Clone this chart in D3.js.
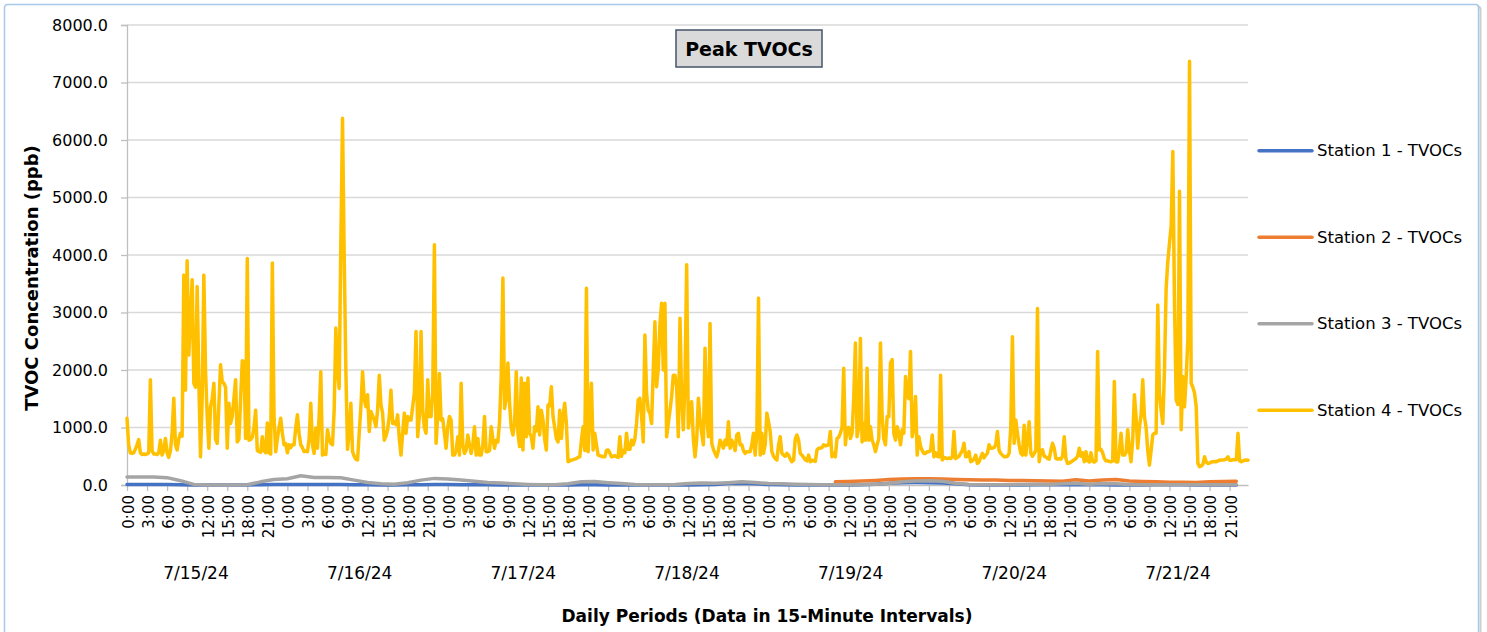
<!DOCTYPE html>
<html>
<head>
<meta charset="utf-8">
<title>Peak TVOCs</title>
<script src="https://cdn.jsdelivr.net/npm/d3@7"></script>
<style>
  body { margin: 0; background: #fff; }
  svg { display: block; font-family: "DejaVu Sans", sans-serif; }
</style>
</head>
<body>
<div id="chart"></div>
<script>
// ---------- data ----------
const days = ["7/15/24", "7/16/24", "7/17/24", "7/18/24", "7/19/24", "7/20/24", "7/21/24"];
const hourTicks = [0, 3, 6, 9, 12, 15, 18, 21];
const yTicks = [0, 1000, 2000, 3000, 4000, 5000, 6000, 7000, 8000];
const seriesNames = ["Station 1 - TVOCs", "Station 2 - TVOCs", "Station 3 - TVOCs", "Station 4 - TVOCs"];
const seriesColors = ["#4472C4", "#ED7D31", "#A5A5A5", "#FFC000"];

// station 4 is 15-minute data (96 readings per day)
const s4Day1 = [
  1160, 700, 560, 550, 560, 620, 700, 790, 560, 530,
  540, 530, 540, 560, 1830, 600, 540, 540, 530, 560,
  780, 520, 600, 810, 560, 480, 600, 900, 1510, 700,
  610, 800, 900, 850, 3650, 1650, 3900, 2260, 2900, 3570,
  1770, 1700, 3450, 1800, 490, 1500, 3650, 2000, 1200, 640,
  1360, 1500, 1770, 800, 725, 1400, 2090, 1800, 1770, 1700,
  640, 1420, 1070, 1200, 1500, 1830, 750, 800, 1500, 2160,
  2150, 810, 3940, 780, 790, 830, 1000, 1300, 600, 580,
  570, 840, 600, 560, 1080, 560, 540, 3860, 1200, 580,
  800, 1000, 1160, 900, 700, 720];
const s4Day2 = [
  560, 700, 650, 700, 700, 1000, 1220, 900, 700, 650,
  580, 590, 580, 800, 1420, 700, 550, 990, 640, 1200,
  1970, 520, 540, 530, 960, 800, 725, 700, 1300, 2730,
  2000, 1680, 4200, 6380, 4000, 2000, 620, 900, 1420, 580,
  500, 450, 435, 900, 1360, 1970, 1500, 1360, 1570, 930,
  1280, 1200, 1130, 1015, 1300, 1910, 1400, 1250, 780, 850,
  960, 1200, 1650, 1070, 1100, 1050, 1220, 800, 520, 900,
  1250, 900, 1190, 1130, 1130, 1360, 1600, 2670, 840, 1200,
  2670, 1300, 1000, 900, 1830, 1190, 1190, 1600, 4180, 725,
  1200, 1940, 1130, 1150, 900, 640];
const s4Day3 = [
  1000, 1190, 1130, 520, 520, 600, 840, 520, 1770, 700,
  550, 610, 870, 700, 550, 700, 1015, 520, 810, 520,
  520, 700, 1190, 580, 580, 600, 1015, 810, 640, 780,
  750, 1100, 1885, 3600, 1330, 1500, 2120, 1420, 1000, 870,
  1070, 1970, 900, 670, 1860, 610, 1770, 840, 1860, 900,
  840, 640, 1015, 940, 1360, 870, 1300, 1130, 800, 610,
  1390, 1380, 1710, 1190, 1000, 810, 750, 1300, 810, 1200,
  1420, 1070, 405, 420, 435, 440, 450, 460, 480, 490,
  780, 1015, 600, 3420, 580, 1200, 1770, 610, 900, 700,
  520, 510, 500, 490, 490, 600];
const s4Day4 = [
  610, 560, 490, 500, 510, 490, 480, 840, 500, 600,
  560, 900, 620, 620, 780, 700, 800, 1070, 1480, 1510,
  1200, 750, 2610, 1600, 1300, 1250, 1070, 2000, 2840, 1710,
  2030, 2800, 3160, 2000, 3160, 840, 1070, 1300, 1540, 1910,
  1910, 1700, 840, 2900, 1500, 960, 1800, 3830, 990, 1200,
  1450, 800, 490, 780, 1510, 1130, 900, 700, 2380, 1200,
  840, 2810, 725, 620, 550, 490, 600, 780, 725, 640,
  780, 700, 1100, 640, 780, 700, 600, 870, 900, 700,
  700, 600, 550, 580, 580, 580, 700, 900, 520, 900,
  3250, 520, 900, 550, 700, 1250];
const s4Day5 = [
  1100, 930, 580, 500, 460, 435, 700, 840, 550, 520,
  500, 550, 520, 450, 405, 430, 800, 870, 780, 550,
  520, 480, 440, 420, 520, 405, 430, 420, 410, 610,
  640, 640, 650, 700, 680, 690, 700, 930, 490, 550,
  490, 810, 830, 900, 1000, 2030, 700, 990, 1000, 810,
  900, 1500, 2470, 840, 1000, 2550, 750, 1070, 780, 2030,
  780, 1015, 780, 700, 580, 700, 810, 2470, 1190, 800,
  700, 1190, 1190, 2120, 2180, 900, 780, 1015, 900, 700,
  960, 900, 1885, 1600, 1500, 2320, 840, 1000, 1540, 520,
  840, 670, 600, 550, 550, 580];
const s4Day6 = [
  580, 600, 870, 490, 560, 500, 490, 1910, 435, 480,
  470, 460, 470, 460, 480, 930, 460, 480, 500, 550,
  600, 725, 490, 500, 580, 405, 420, 450, 520, 375,
  400, 480, 550, 470, 520, 550, 700, 640, 640, 650,
  700, 930, 600, 550, 520, 490, 490, 500, 550, 1000,
  2580, 725, 1130, 900, 700, 550, 520, 1040, 520, 800,
  1100, 550, 500, 550, 600, 3070, 405, 600, 610, 500,
  490, 460, 450, 600, 725, 640, 460, 450, 460, 450,
  500, 840, 460, 375, 380, 400, 420, 440, 460, 500,
  640, 500, 560, 405, 580, 420];
const s4Day7 = [
  400, 560, 410, 400, 420, 2320, 610, 620, 560, 460,
  420, 420, 410, 405, 420, 1800, 405, 400, 600, 900,
  520, 520, 560, 960, 600, 405, 800, 1570, 1190, 640,
  1000, 1220, 1830, 1190, 1000, 600, 345, 600, 870, 900,
  900, 3130, 1600, 1300, 1070, 2000, 3420, 3890, 4200, 4500,
  5800, 3160, 1480, 1400, 5110, 960, 1885, 1360, 1885, 2520,
  7370, 1770, 1700, 1600, 1360, 375, 320, 330, 360, 490,
  400, 375, 380, 400, 405, 410, 405, 420, 430, 435,
  435, 440, 450, 490, 430, 430, 440, 440, 440, 900,
  420, 405, 420, 430, 435, 430];

// stations 1-3 stay near zero; read every 2 hours
const station1 = [
  8, 8, 8, 8, 5, 0, 0, 0, 0, 0,
  5, 8, 10, 10, 10, 10, 8, 5, 3, 2,
  2, 3, 5, 8, 8, 6, 5, 3, 2, 2,
  0, 0, 0, 2, 5, 3, 2, 0, 0, 0,
  0, 0, 2, 5, 10, 25, 30, 20, 8, 3,
  0, 0, 0, 0, 2, 5, 15, 30, 40, 42,
  40, 35, 20, 5, 2, 0, 0, 2, 5, 5,
  5, 5, 5, 3, 2, 2, 2, 5, 5, 3,
  2, 2, 2, 2];
const station2 = [
  null, null, null, null, null, null, null, null, null, null,
  null, null, null, null, null, null, null, null, null, null,
  null, null, null, null, null, null, null, null, null, null,
  null, null, null, null, null, null, null, null, null, null,
  null, null, null, null, null, null, null, null, null, null,
  null, null, null, 55, 60, 70, 80, 95, 105, 110,
  110, 105, 95, 90, 85, 85, 80, 80, 75, 70,
  65, 90, 70, 85, 95, 70, 60, 55, 50, 50,
  45, 55, 60, 65];
const station3 = [
  140, 140, 138, 128, 75, 10, 0, 0, 0, 5,
  55, 95, 110, 160, 130, 130, 125, 85, 45, 20,
  12, 40, 85, 115, 105, 85, 65, 45, 35, 20,
  10, 5, 5, 20, 55, 60, 40, 25, 10, 5,
  5, 10, 25, 35, 30, 40, 55, 45, 25, 20,
  15, 10, 5, 5, 5, 10, 15, 25, 55, 70,
  75, 65, 30, 10, 5, 5, 5, 10, 15, 10,
  20, 30, 15, 25, 20, 10, 5, 5, 5, 5,
  5, 5, 5, 5];

const s4StepHours = 0.25;
const lowStepHours = 2;

// ---------- layout ----------
const W = 1487, H = 632;
const plot = { left: 127, right: 1248, top: 25, bottom: 485 };

const station4 = [].concat(s4Day1, s4Day2, s4Day3, s4Day4, s4Day5, s4Day6, s4Day7);
const toPoints = (arr, step) => arr.map((v, i) => ({ h: i * step, v: v }));
const series = [
  toPoints(station1, lowStepHours),
  toPoints(station2, lowStepHours),
  toPoints(station3, lowStepHours),
  toPoints(station4, s4StepHours)
];

const svg = d3.select("#chart").append("svg")
  .attr("width", W)
  .attr("height", H);

// outer chart border with a faint shadow
svg.append("rect")
  .attr("x", 6.5).attr("y", 6.5)
  .attr("width", 1474).attr("height", 640)
  .attr("rx", 3)
  .attr("fill", "none")
  .attr("stroke", "#cfcfcf")
  .attr("stroke-width", 2);
svg.append("rect")
  .attr("x", 4.5).attr("y", 4.5)
  .attr("width", 1474).attr("height", 640)
  .attr("rx", 3)
  .attr("fill", "#fff")
  .attr("stroke", "#a8c8ea")
  .attr("stroke-width", 1.5);

const x = d3.scaleLinear()
  .domain([0, (station4.length - 1) * s4StepHours])
  .range([plot.left, plot.right]);

const y = d3.scaleLinear()
  .domain([0, 8000])
  .range([plot.bottom, plot.top]);

// gridlines
svg.append("g")
  .selectAll("line")
  .data(yTicks.filter(d => d > 0))
  .enter()
  .append("line")
  .attr("x1", plot.left)
  .attr("x2", plot.right)
  .attr("y1", d => y(d))
  .attr("y2", d => y(d))
  .attr("stroke", "#d9d9d9")
  .attr("stroke-width", 1.3);

// y axis
const yAxis = d3.axisLeft(y)
  .tickValues(yTicks)
  .tickFormat(d3.format(".1f"))
  .tickSize(6)
  .tickPadding(13);

const gy = svg.append("g")
  .attr("transform", `translate(${plot.left},0)`)
  .call(yAxis);
gy.select(".domain").attr("stroke", "#bfbfbf").attr("stroke-width", 1.3);
gy.selectAll(".tick line").attr("stroke", "#bfbfbf").attr("stroke-width", 1.3);
gy.selectAll(".tick text")
  .style("font-family", "DejaVu Sans")
  .style("font-size", "16px")
  .attr("fill", "#000");

// x axis, 3-hour ticks
const xTickValues = [];
days.forEach((d, i) => hourTicks.forEach(hh => xTickValues.push(i * 24 + hh)));

const xAxis = d3.axisBottom(x)
  .tickValues(xTickValues)
  .tickFormat(h => `${h % 24}:00`)
  .tickSize(6)
  .tickSizeOuter(0);

const gx = svg.append("g")
  .attr("transform", `translate(0,${plot.bottom})`)
  .call(xAxis);
gx.select(".domain").attr("stroke", "#bfbfbf").attr("stroke-width", 1.3);
gx.selectAll(".tick line").attr("stroke", "#bfbfbf").attr("stroke-width", 1.3);
gx.selectAll(".tick text")
  .attr("transform", "rotate(-90)")
  .attr("x", -10)
  .attr("y", 1)
  .attr("dy", "0.36em")
  .style("text-anchor", "end")
  .style("font-family", "DejaVu Sans")
  .style("font-size", "15px")
  .attr("fill", "#000");

// day group labels
const dayScale = d3.scalePoint()
  .domain(days)
  .range([196, 1178]);

svg.append("g")
  .selectAll("text")
  .data(days)
  .enter()
  .append("text")
  .attr("x", d => dayScale(d))
  .attr("y", 579)
  .attr("text-anchor", "middle")
  .style("font-size", "17px")
  .text(d => d);

// series lines
const line = d3.line()
  .defined(d => d.v !== null)
  .x(d => x(d.h))
  .y(d => y(d.v));

svg.append("g")
  .selectAll("path")
  .data(series)
  .enter()
  .append("path")
  .attr("d", line)
  .attr("fill", "none")
  .attr("stroke", (d, i) => seriesColors[i])
  .attr("stroke-width", 3.5)
  .attr("stroke-linejoin", "round")
  .attr("stroke-linecap", "round");

// title box
svg.append("rect")
  .attr("x", 676).attr("y", 30)
  .attr("width", 146).attr("height", 37)
  .attr("fill", "#dadada")
  .attr("stroke", "#44546a")
  .attr("stroke-width", 1.5);
svg.append("text")
  .attr("x", 749).attr("y", 49)
  .attr("dominant-baseline", "central")
  .attr("text-anchor", "middle")
  .style("font-size", "19px")
  .style("font-weight", "bold")
  .text("Peak TVOCs");

// axis titles
svg.append("text")
  .attr("transform", "translate(31,278) rotate(-90)")
  .attr("text-anchor", "middle")
  .attr("dominant-baseline", "central")
  .style("font-size", "18px")
  .style("font-weight", "bold")
  .text("TVOC Concentration (ppb)");

svg.append("text")
  .attr("x", 767).attr("y", 616)
  .attr("text-anchor", "middle")
  .attr("dominant-baseline", "central")
  .style("font-size", "17px")
  .style("font-weight", "bold")
  .text("Daily Periods (Data in 15-Minute Intervals)");

// legend
const legend = svg.append("g")
  .selectAll("g")
  .data(seriesNames)
  .enter()
  .append("g")
  .attr("transform", (d, i) => `translate(1259,${150.7 + i * 86.5})`);

legend.append("line")
  .attr("x1", 0).attr("x2", 53)
  .attr("stroke", (d, i) => seriesColors[i])
  .attr("stroke-width", 3.5)
  .attr("stroke-linecap", "round");

legend.append("text")
  .attr("x", 58)
  .attr("dominant-baseline", "central")
  .style("font-size", "16.5px")
  .text(d => d);
</script>
</body>
</html>
